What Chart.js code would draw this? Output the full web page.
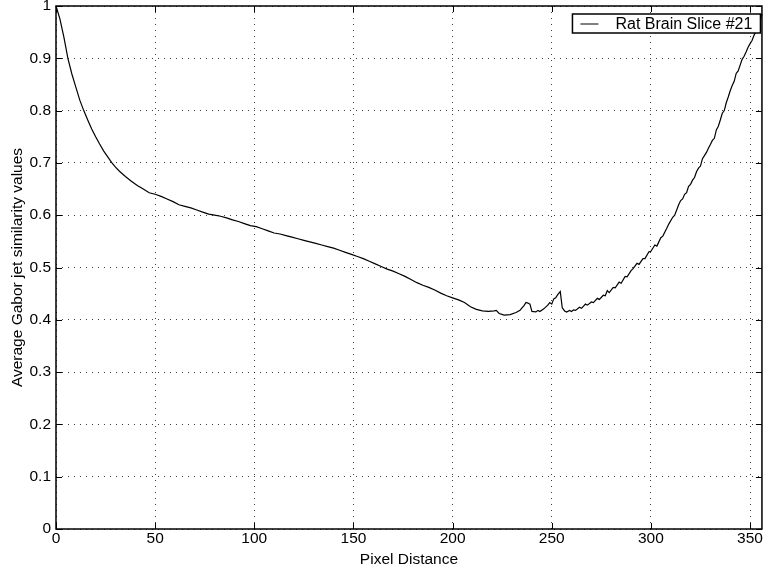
<!DOCTYPE html>
<html>
<head>
<meta charset="utf-8">
<script src="https://cdn.jsdelivr.net/npm/chart.js@4.4.1/dist/chart.umd.min.js"></script>
<style>
  html, body { margin: 0; padding: 0; background: #fff; }
  #wrap { width: 763px; height: 569px; position: relative; }
</style>
</head>
<body>
<div id="wrap"><canvas id="plot"></canvas></div>
<script>
// values
const distance = [
  0, 2, 4, 6, 8, 10, 12, 14, 16, 18, 20, 22, 24, 26, 28, 30, 32, 35, 38, 41, 44, 47,
  50, 53, 56, 59, 62, 65, 68, 71, 74, 77, 80, 83, 86, 89, 92, 95, 98,
  101, 104, 107, 110, 113, 116, 119, 122, 125, 128, 131, 134, 137, 140, 143, 146, 149,
  152, 155, 158, 161, 164, 167, 170, 173, 176, 179, 182, 185, 188, 191, 194, 197,
  200, 203, 206, 209, 212, 215, 218, 221, 222, 223.5, 226, 229, 232, 234, 235, 236, 237, 238, 239,
  240, 242, 243, 244, 246, 248, 249, 250, 251, 252, 253, 254.3, 255.3, 256.5, 257.5, 259,
  260, 261, 262, 264, 265, 267, 268, 270, 271, 273, 274, 276, 277, 278, 279,
  281, 282, 284, 285, 287, 288, 290, 291, 293, 294, 296, 297, 299,
  300, 302, 303, 305, 306, 308, 309, 311, 312, 314, 315, 316, 317, 318, 319,
  320, 321, 322, 323, 324, 325, 326, 327, 328, 329, 330, 331, 332, 333, 334, 335,
  336, 337, 338, 339, 340, 341, 342, 343, 344, 345, 346, 347, 348, 349,
  350, 351, 352, 353, 354, 355, 356, 357
];
const similarity = [
  1.000, 0.975, 0.940, 0.900, 0.870, 0.845, 0.820, 0.800, 0.782, 0.765, 0.750, 0.736, 0.723, 0.712, 0.701, 0.692, 0.684, 0.674, 0.665, 0.657, 0.650, 0.643,
  0.640, 0.636, 0.631, 0.626, 0.620, 0.617, 0.614, 0.610, 0.606, 0.602, 0.600, 0.598, 0.595, 0.591, 0.588, 0.584, 0.580,
  0.578, 0.574, 0.570, 0.566, 0.564, 0.561, 0.558, 0.555, 0.552, 0.549, 0.546, 0.543, 0.540, 0.537, 0.533, 0.529, 0.525,
  0.521, 0.517, 0.512, 0.507, 0.502, 0.497, 0.493, 0.488, 0.483, 0.477, 0.471, 0.466, 0.462, 0.457, 0.451, 0.446,
  0.442, 0.438, 0.433, 0.425, 0.420, 0.417, 0.416, 0.417, 0.418, 0.412, 0.409, 0.410, 0.414, 0.418, 0.423, 0.427, 0.433, 0.432, 0.430,
  0.416, 0.415, 0.418, 0.416, 0.421, 0.428, 0.433, 0.430, 0.440, 0.442, 0.448, 0.454, 0.423, 0.417, 0.415, 0.418,
  0.416, 0.419, 0.418, 0.424, 0.422, 0.430, 0.428, 0.434, 0.433, 0.441, 0.439, 0.447, 0.446, 0.456, 0.452,
  0.462, 0.461, 0.472, 0.470, 0.483, 0.482, 0.494, 0.498, 0.508, 0.506, 0.517, 0.517, 0.530,
  0.531, 0.543, 0.541, 0.557, 0.560, 0.575, 0.583, 0.596, 0.600, 0.620, 0.628, 0.631, 0.640, 0.643, 0.655,
  0.659, 0.667, 0.672, 0.683, 0.690, 0.694, 0.708, 0.714, 0.720, 0.728, 0.735, 0.743, 0.747, 0.763, 0.770, 0.782,
  0.795, 0.800, 0.815, 0.826, 0.838, 0.848, 0.856, 0.871, 0.876, 0.887, 0.898, 0.904, 0.912, 0.921,
  0.928, 0.934, 0.944, 0.951, 0.958, 0.970, 0.985, 1.000
];
const seriesName = 'Rat Brain Slice #21';
const xTitle = 'Pixel Distance';
const yTitle = 'Average Gabor jet similarity values';

const font = "'Liberation Sans', Arial, Helvetica, sans-serif";

// matlab style box with inward ticks on all four sides
const boxTicks = {
  id: 'boxTicks',
  afterDraw(chart) {
    const c = chart.ctx, a = chart.chartArea;
    const xs = chart.scales.x, ys = chart.scales.y;
    const len = 6;
    c.save();
    c.strokeStyle = '#000';
    c.lineWidth = 1;
    c.beginPath();
    xs.ticks.forEach(t => {
      const px = Math.round(xs.getPixelForValue(t.value)) + 0.5;
      c.moveTo(px, a.bottom); c.lineTo(px, a.bottom - len);
      c.moveTo(px, a.top); c.lineTo(px, a.top + len);
    });
    ys.ticks.forEach(t => {
      const py = Math.round(ys.getPixelForValue(t.value)) + 0.5;
      c.moveTo(a.left, py); c.lineTo(a.left + len, py);
      c.moveTo(a.right, py); c.lineTo(a.right - len, py);
    });
    c.stroke();
    c.lineWidth = 1.5;
    c.strokeRect(a.left, a.top, a.right - a.left, a.bottom - a.top);
    c.restore();
  }
};

// legend box drawn like the matlab one
const legendBox = {
  id: 'legendBox',
  afterDraw(chart) {
    const c = chart.ctx, a = chart.chartArea;
    const w = 188, h = 19;
    const x0 = a.right - w - 1.5, y0 = a.top + 8;
    c.save();
    c.fillStyle = '#fff';
    c.fillRect(x0, y0, w, h);
    c.strokeStyle = '#000';
    c.lineWidth = 1.5;
    c.strokeRect(x0, y0, w, h);
    c.lineWidth = 1;
    c.beginPath();
    c.moveTo(x0 + 8, y0 + h / 2 + 0.5);
    c.lineTo(x0 + 26, y0 + h / 2 + 0.5);
    c.stroke();
    c.fillStyle = '#000';
    c.font = '16px ' + font;
    c.textBaseline = 'middle';
    c.fillText(seriesName, x0 + 43, y0 + h / 2 + 1);
    c.restore();
  }
};

const points = distance.map((d, i) => ({ x: d, y: similarity[i] }));

new Chart(document.getElementById('plot'), {
  type: 'line',
  data: {
    datasets: [{
      label: seriesName,
      data: points,
      borderColor: '#000',
      borderWidth: 1.2,
      pointRadius: 0,
      tension: 0,
      fill: false,
      clip: 1
    }]
  },
  options: {
    responsive: true,
    maintainAspectRatio: false,
    animation: false,
    layout: { padding: { top: 0, right: 1, left: 0, bottom: 0 } },
    plugins: {
      legend: { display: false },
      tooltip: { enabled: false }
    },
    scales: {
      x: {
        type: 'linear',
        min: 0,
        max: 356,
        ticks: {
          stepSize: 50,
          includeBounds: false,
          color: '#000',
          font: { family: font, size: 15.5 },
          padding: 0,
          maxRotation: 0
        },
        grid: {
          color: 'rgba(0,0,0,0.75)',
          lineWidth: 1,
          drawTicks: false
        },
        border: { display: false, dash: [1, 5] },
        title: {
          display: true,
          text: xTitle,
          color: '#000',
          font: { family: font, size: 15.5 },
          padding: { top: 0, bottom: 0 }
        },
        afterFit(scale) { scale.height = 40; }
      },
      y: {
        min: 0,
        max: 1,
        ticks: {
          stepSize: 0.1,
          color: '#000',
          font: { family: font, size: 15.5 },
          padding: 5,
          callback: v => String(Math.round(v * 10) / 10)
        },
        grid: {
          color: 'rgba(0,0,0,0.75)',
          lineWidth: 1,
          drawTicks: false
        },
        border: { display: false, dash: [1, 5] },
        title: {
          display: true,
          text: yTitle,
          color: '#000',
          font: { family: font, size: 15.5 },
          padding: { top: 8, bottom: 0 }
        },
        afterFit(scale) {
          scale.width = 56;
          scale.paddingTop = 6;
          scale.paddingBottom = 0;
        }
      }
    }
  },
  plugins: [boxTicks, legendBox]
});
</script>
</body>
</html>
